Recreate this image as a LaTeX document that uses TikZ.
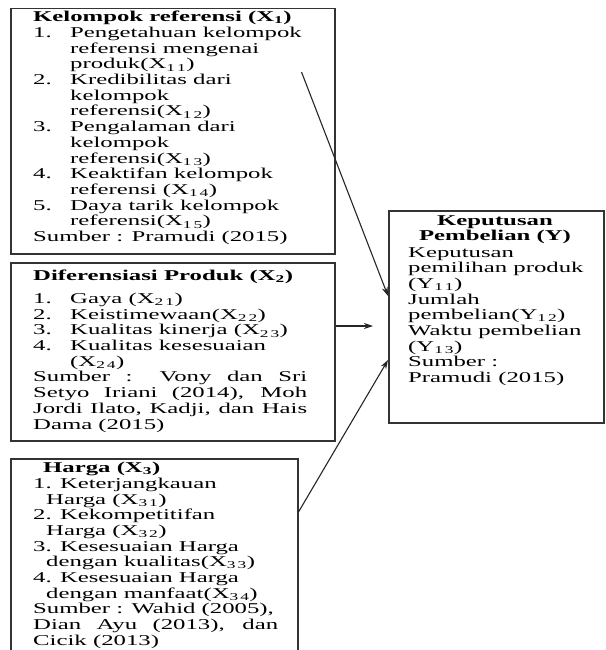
\documentclass[tikz,border=0pt]{standalone}
\usepackage{fontspec}
\setmainfont[FakeStretch=1.65]{Liberation Serif}
\usetikzlibrary{arrows.meta}

\newcommand{\idx}[1]{\textsubscript{#1}}
\newcommand{\itm}[1]{\makebox[37pt][l]{#1}}

\tikzset{
  box/.style={draw=black!80, line width=1.5pt, anchor=north west, inner sep=0pt},
  txt/.style={anchor=north west, align=left, inner sep=0pt, font=\fontsize{15}{15.7}\selectfont},
  link/.style={-{Stealth[length=9pt,width=6pt]}, line width=1.1pt, black!85},
}

\begin{document}
\begin{tikzpicture}[x=1pt, y=-1pt]

     \useasboundingbox (0,0) rectangle (605,650);
     \clip (0,0) rectangle (605,650);

     \node (kel) at (10, 8) [box, minimum width=324pt, minimum height=245pt] {};
     \node (dif) at (10, 262) [box, minimum width=324pt, minimum height=178pt] {};
     \node (har) at (10, 458) [box, minimum width=287pt, minimum height=200pt] {};
     \node (kep) at (388, 210) [box, minimum width=215pt, minimum height=212pt] {};

     \node (keltxt) at (33, 11) [txt] {%
       \textbf{Kelompok referensi (X\idx{1})}\\
       \itm{1.}Pengetahuan kelompok\\
       \itm{}referensi mengenai\\
       \itm{}produk(X\idx{1\hspace{2pt}1})\\
       \itm{2.}Kredibilitas dari\\
       \itm{}kelompok\\
       \itm{}referensi(X\idx{1\hspace{2pt}2})\\
       \itm{3.}Pengalaman dari\\
       \itm{}kelompok\\
       \itm{}referensi(X\idx{1\hspace{2pt}3})\\
       \itm{4.}Keaktifan kelompok\\
       \itm{}referensi (X\idx{1\hspace{2pt}4})\\
       \itm{5.}Daya tarik kelompok\\
       \itm{}referensi(X\idx{1\hspace{2pt}5})\\
       Sumber : Pramudi (2015)};

     \node (diftxt) at (33, 270) [txt] {%
       \textbf{Diferensiasi Produk (X\idx{2})}\\[7pt]
       \itm{1.}Gaya (X\idx{2\hspace{2pt}1})\\
       \itm{2.}Keistimewaan(X\idx{2\hspace{2pt}2})\\
       \itm{3.}Kualitas kinerja (X\idx{2\hspace{2pt}3})\\
       \itm{4.}Kualitas kesesuaian\\
       \itm{}(X\idx{2\hspace{2pt}4})\\
       \makebox[274pt][s]{Sumber : Vony dan Sri}\\
       \makebox[274pt][s]{Setyo Iriani (2014), Moh}\\
       \makebox[274pt][s]{Jordi Ilato, Kadji, dan Hais}\\
       Dama (2015)};

     \node (hartxt) at (33, 462) [txt] {%
       \hspace*{10pt}\textbf{Harga (X\idx{3})}\\
       1. Keterjangkauan\\
       \hspace*{13pt}Harga (X\idx{3\hspace{2pt}1})\\
       2. Kekompetitifan\\
       \hspace*{13pt}Harga (X\idx{3\hspace{2pt}2})\\
       3. Kesesuaian Harga\\
       \hspace*{13pt}dengan kualitas(X\idx{3\hspace{2pt}3})\\
       4. Kesesuaian Harga\\
       \hspace*{13pt}dengan manfaat(X\idx{3\hspace{2pt}4})\\
       Sumber : Wahid (2005),\\
       \makebox[245pt][s]{Dian Ayu (2013), dan}\\
       Cicik (2013)};

     \node (keptitle) at (495, 215) [txt, anchor=north, align=center] {%
       \textbf{Keputusan}\\
       \textbf{Pembelian (Y)}};

     \node (keptxt) at (408, 247) [txt] {%
       Keputusan\\
       pemilihan produk\\
       (Y\idx{1\hspace{2pt}1})\\
       Jumlah\\
       pembelian(Y\idx{1\hspace{2pt}2})\\
       Waktu pembelian\\
       (Y\idx{1\hspace{2pt}3})\\
       Sumber :\\
       Pramudi (2015)};

     \draw [link] ([xshift=-34pt, yshift=-64pt]kel.north east) to ([yshift=-86pt]kep.north west);
     \draw [link] ([yshift=-64pt]dif.north east) to ([xshift=-15pt, yshift=-116pt]kep.north west);
     \draw [link] ([yshift=-54pt]har.north east) to ([yshift=-150pt]kep.north west);

\end{tikzpicture}
\end{document}
